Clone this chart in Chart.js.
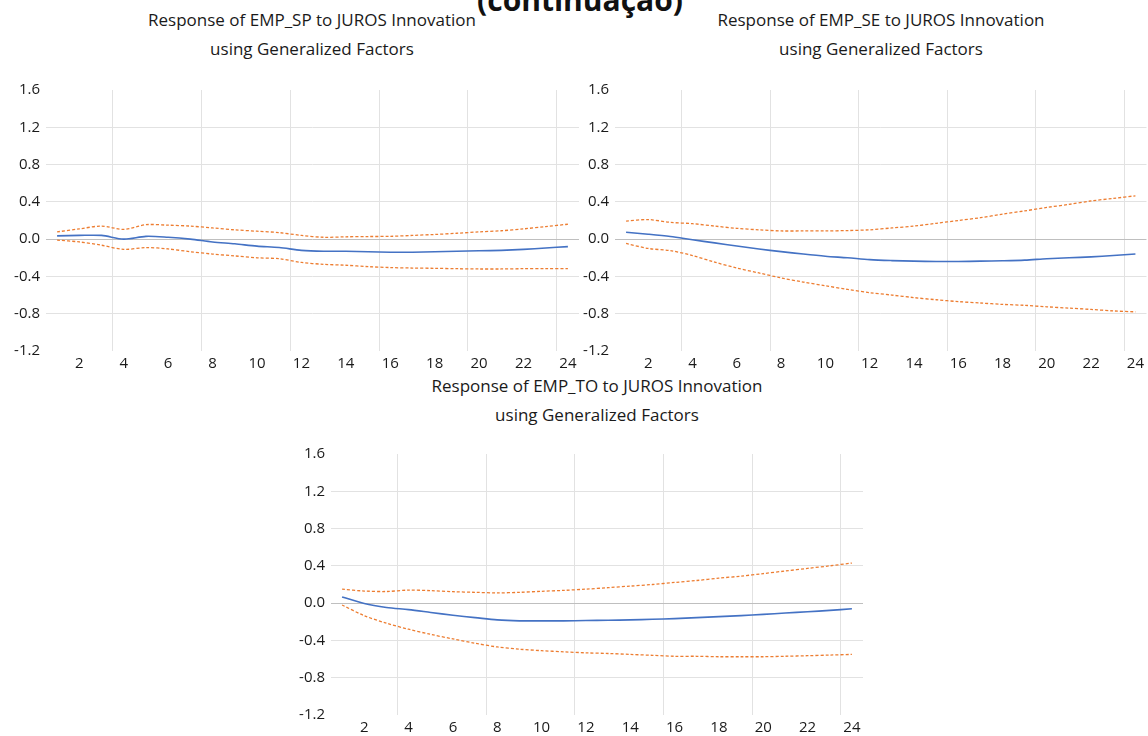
<!DOCTYPE html>
<html lang="pt">
<head>
    <meta charset="UTF-8">
    <title>Response to JUROS Innovation (continuação)</title>
    <script src="https://cdn.jsdelivr.net/npm/chart.js"></script>
    <style>
        body {
            margin: 0;
            width: 1148px;
            height: 736px;
            overflow: hidden;
            background: #fff;
            font-family: "Open Sans", sans-serif;
            position: relative;
        }
        .heading {
            position: absolute;
            left: 0;
            width: 1160px;
            top: -15px;
            text-align: center;
            font-weight: bold;
            font-size: 30px;
            line-height: 30px;
            color: #111;
        }
        .ttl {
            position: absolute;
            text-align: center;
            font-size: 17px;
            line-height: 29px;
            color: #1a1a1a;
            white-space: nowrap;
        }
        canvas {
            position: absolute;
        }
    </style>
</head>
<body>

    <div class="heading">(continuação)</div>

    <div class="ttl" style="left:62px; width:500px; top:5px;">Response of EMP_SP to JUROS Innovation<br>using Generalized Factors</div>
    <div class="ttl" style="left:631px; width:500px; top:5px;">Response of EMP_SE to JUROS Innovation<br>using Generalized Factors</div>
    <div class="ttl" style="left:347px; width:500px; top:371px;">Response of EMP_TO to JUROS Innovation<br>using Generalized Factors</div>

    <canvas id="chartSP" width="582" height="298" style="left:0px; top:75px;"></canvas>
    <canvas id="chartSE" width="579" height="298" style="left:569px; top:75px;"></canvas>
    <canvas id="chartTO" width="581" height="298" style="left:285px; top:439px;"></canvas>

    <script>
        // periods 1..24
        const periods = ['1','2','3','4','5','6','7','8','9','10','11','12',
                         '13','14','15','16','17','18','19','20','21','22','23','24'];

        // EMP_SP
        const spResp  = [0.035, 0.04, 0.04, 0.0, 0.03, 0.02, 0.0, -0.03, -0.05, -0.075, -0.09, -0.12,
                         -0.13, -0.13, -0.135, -0.14, -0.14, -0.135, -0.13, -0.125, -0.12, -0.11, -0.095, -0.08];
        const spUpper = [0.078, 0.11, 0.14, 0.105, 0.155, 0.15, 0.14, 0.12, 0.10, 0.085, 0.07, 0.04,
                         0.02, 0.025, 0.028, 0.03, 0.04, 0.05, 0.063, 0.078, 0.09, 0.11, 0.135, 0.16];
        const spLower = [-0.01, -0.03, -0.065, -0.11, -0.09, -0.105, -0.135, -0.16, -0.18, -0.2, -0.21, -0.25,
                         -0.27, -0.28, -0.295, -0.305, -0.31, -0.313, -0.317, -0.32, -0.32, -0.317, -0.317, -0.317];

        // EMP_SE
        const seResp  = [0.074, 0.053, 0.028, -0.007, -0.04, -0.074, -0.106, -0.134, -0.16, -0.183, -0.2, -0.22,
                         -0.23, -0.236, -0.24, -0.24, -0.236, -0.232, -0.225, -0.21, -0.2, -0.19, -0.176, -0.16];
        const seUpper = [0.194, 0.21, 0.18, 0.166, 0.14, 0.116, 0.1, 0.088, 0.088, 0.088, 0.092, 0.1,
                         0.12, 0.14, 0.17, 0.2, 0.23, 0.268, 0.303, 0.34, 0.373, 0.41, 0.437, 0.465];
        const seLower = [-0.046, -0.1, -0.123, -0.176, -0.247, -0.31, -0.363, -0.416, -0.46, -0.5, -0.54, -0.574,
                         -0.6, -0.627, -0.65, -0.67, -0.685, -0.7, -0.71, -0.726, -0.74, -0.754, -0.77, -0.78];

        // EMP_TO
        const toResp  = [0.067, -0.004, -0.046, -0.07, -0.1, -0.13, -0.155, -0.18, -0.19, -0.19, -0.19, -0.187,
                         -0.183, -0.18, -0.173, -0.166, -0.155, -0.145, -0.134, -0.12, -0.106, -0.092, -0.078, -0.06];
        const toUpper = [0.15, 0.13, 0.125, 0.14, 0.134, 0.123, 0.116, 0.11, 0.116, 0.127, 0.137, 0.15,
                         0.166, 0.183, 0.2, 0.222, 0.243, 0.268, 0.29, 0.317, 0.345, 0.373, 0.4, 0.43];
        const toLower = [-0.02, -0.134, -0.215, -0.28, -0.335, -0.384, -0.43, -0.47, -0.494, -0.51, -0.522, -0.533,
                         -0.54, -0.55, -0.56, -0.57, -0.57, -0.575, -0.575, -0.575, -0.57, -0.564, -0.557, -0.55];

        const yMin = -1.2, yMax = 1.6, yStep = 0.4;

        const blue = '#4472C4';
        const orange = '#ED7D31';
        const gridColor = '#e2e2e2';
        const zeroColor = '#bfbfbf';

        function makeChart(id, resp, upper, lower, padRight) {
            const ctx = document.getElementById(id).getContext("2d");
            return new Chart(ctx, {
                type: 'line',
                data: {
                    labels: periods,
                    datasets: [
                        { data: resp, borderColor: blue, borderWidth: 1.6, pointRadius: 0, tension: 0.3 },
                        { data: upper, borderColor: orange, borderWidth: 1.3, borderDash: [3, 2], pointRadius: 0, tension: 0.3 },
                        { data: lower, borderColor: orange, borderWidth: 1.3, borderDash: [3, 2], pointRadius: 0, tension: 0.3 }
                    ]
                },
                options: {
                    responsive: false,
                    animation: false,
                    layout: { padding: { top: 10, right: padRight, bottom: 0, left: 0 } },
                    plugins: { legend: { display: false }, tooltip: { enabled: false } },
                    scales: {
                        x: {
                            offset: true,
                            border: { display: false },
                            grid: {
                                offset: true,
                                drawTicks: false,
                                color: c => ((c.index + 1) % 4 === 0 && c.index < periods.length) ? gridColor : 'transparent'
                            },
                            ticks: {
                                autoSkip: false,
                                maxRotation: 0,
                                padding: 4,
                                color: '#1a1a1a',
                                font: { family: 'Open Sans', size: 15 },
                                callback: (v, i) => (Number(periods[i]) % 2 === 0 ? periods[i] : '')
                            },
                            afterFit: s => { s.height = 22; }
                        },
                        y: {
                            min: yMin,
                            max: yMax,
                            border: { display: false },
                            grid: {
                                drawTicks: false,
                                color: c => {
                                    const v = c.tick ? c.tick.value : 0;
                                    if (Math.abs(v) < 1e-9) return zeroColor;
                                    if (Math.abs(v - yMax) < 1e-9 || Math.abs(v - yMin) < 1e-9) return 'transparent';
                                    return gridColor;
                                }
                            },
                            ticks: {
                                stepSize: yStep,
                                padding: 6,
                                color: '#1a1a1a',
                                font: { family: 'Open Sans', size: 15 },
                                callback: v => (Math.abs(v) < 1e-9 ? '0.0' : v.toFixed(1))
                            },
                            afterFit: s => { s.width = 46; }
                        }
                    }
                }
            });
        }

        makeChart("chartSP", spResp, spUpper, spLower, 3);
        makeChart("chartSE", seResp, seUpper, seLower, 0);
        makeChart("chartTO", toResp, toUpper, toLower, 3);
    </script>

</body>
</html>
